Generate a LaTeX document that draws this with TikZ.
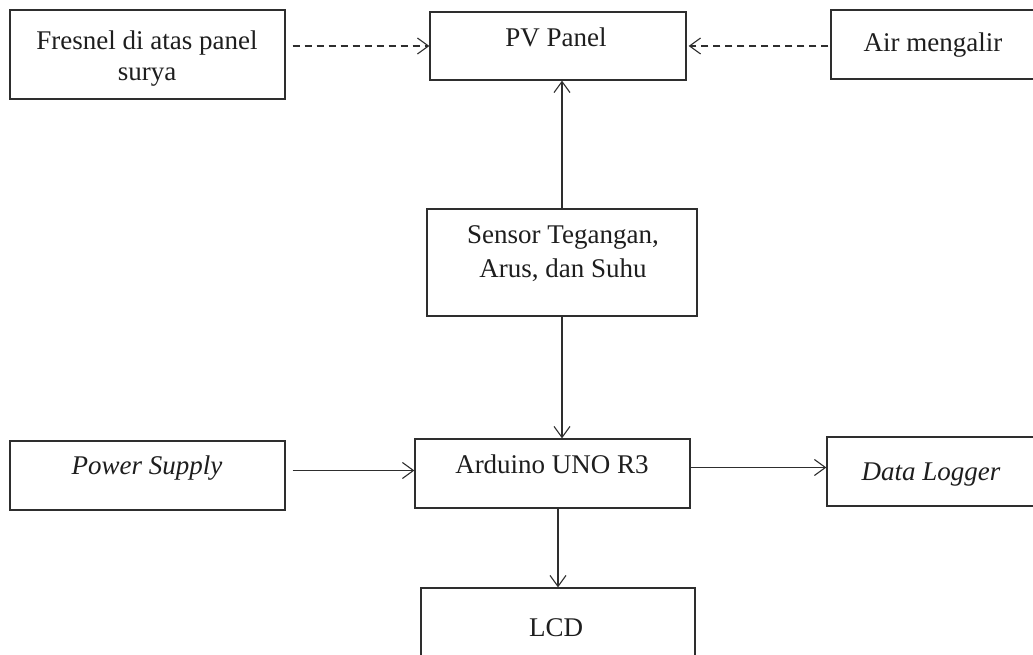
\documentclass[tikz,border=0pt]{standalone}
\usepackage{fontspec}
\setmainfont{Liberation Serif}
\usetikzlibrary{arrows.meta}
\definecolor{ink}{HTML}{1E1E1E}
\definecolor{edge}{HTML}{2E2E2E}
\tikzset{
  box/.style={draw=edge, line width=1.3pt, rectangle, inner sep=0pt},
  lbl/.style={text=ink, inner sep=0pt, align=center, font=\fontsize{27}{31}\selectfont},
  conn/.style={draw=edge, line width=1.1pt, -{Straight Barb[length=11pt,width=16pt,line width=1.1pt]}},
  dconn/.style={conn, dash pattern=on 7pt off 5pt}
}
\begin{document}
\begin{tikzpicture}[x=1pt,y=-1pt]
\useasboundingbox (0,0) rectangle (1033,655);
\fill[white] (0,0) rectangle (1033,655);
% boxes
\node[box, minimum width=275pt, minimum height=89pt] (fres) at (147.5,54.5) {};
\node[box, minimum width=256pt, minimum height=68pt] (pv) at (558,46) {};
\node[box, minimum width=205pt, minimum height=69pt] (air) at (933.5,44.5) {};
\node[box, minimum width=270pt, minimum height=107pt] (sen) at (562,262.5) {};
\node[box, minimum width=275pt, minimum height=69pt] (ard) at (552.5,473.5) {};
\node[box, minimum width=275pt, minimum height=69pt] (ps) at (147.5,475.5) {};
\node[box, minimum width=209pt, minimum height=69pt] (dl) at (931.5,471.5) {};
\node[box, minimum width=274pt, minimum height=82pt] (lcd) at (558,629) {};
% labels
\node[lbl] (tfres) at (147,59) {Fresnel di atas panel\\surya};
\node[lbl] (tpv) at (556,37) {PV Panel};
\node[lbl] (tair) at (933,45) {Air mengalir};
\node[lbl, font=\fontsize{27}{34}\selectfont] (tsen) at (563,254) {Sensor Tegangan,\\Arus, dan Suhu};
\node[lbl] (tard) at (552,464.5) {Arduino UNO R3};
\node[lbl] (tps) at (147,468) {\itshape Power Supply};
\node[lbl] (tdl) at (931,474.5) {\itshape Data Logger};
\node[lbl] (tlcd) at (556,628) {LCD};
% connectors
\draw[dconn, shorten <=7pt] (fres.east |- pv.west) -- (pv.west);
\draw[dconn, shorten <=2pt, shorten >=2pt] (air.west |- pv.east) -- (pv.east);
\draw[conn] (sen.north) -- (pv.south -| sen.north);
\draw[conn] (sen.south) -- (ard.north -| sen.south);
\draw[conn, shorten <=7pt] ([yshift=3pt]ps.east |- ard.west) -- ([yshift=3pt]ard.west);
\draw[conn, shorten <=-1pt] ([yshift=4pt]ard.east |- dl.west) -- ([yshift=4pt]dl.west);
\draw[conn] (lcd.north |- ard.south) -- (lcd.north);
\end{tikzpicture}
\end{document}
